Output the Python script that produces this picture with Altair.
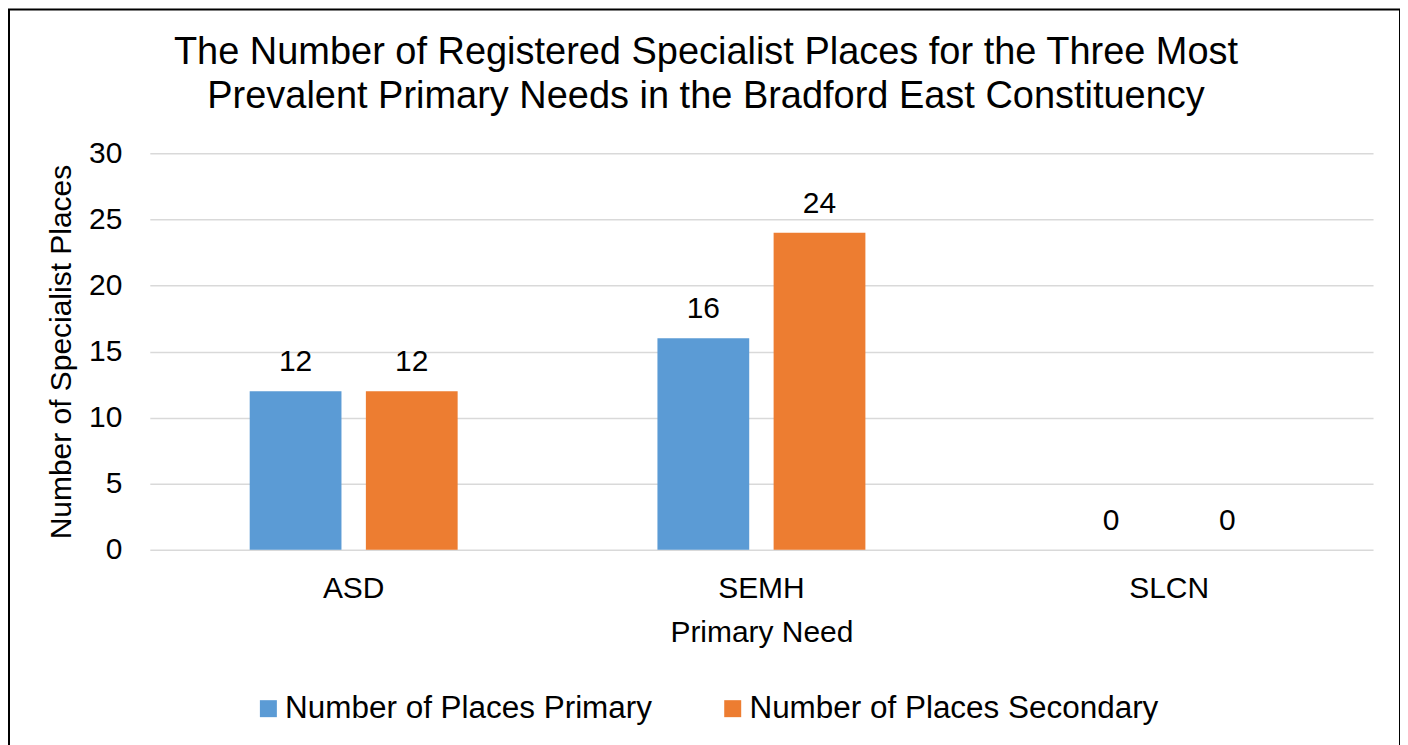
import altair as alt
import pandas as pd

title_lines = ["The Number of Registered Specialist Places for the Three Most",
               "Prevalent Primary Needs in the Bradford East Constituency"]
categories = ["ASD", "SEMH", "SLCN"]
series_names = ["Number of Places Primary", "Number of Places Secondary"]
primary_values = [12, 16, 0]
secondary_values = [12, 24, 0]
y_ticks = [0, 5, 10, 15, 20, 25, 30]
colors = ["#5B9BD5", "#ED7D31"]

rows = []
for c, p, s in zip(categories, primary_values, secondary_values):
    rows.append({"need": c, "series": series_names[0], "value": p})
    rows.append({"need": c, "series": series_names[1], "value": s})
df = pd.DataFrame(rows)

FONT = "Liberation Sans"

x_enc = alt.X(
    "need:N",
    sort=categories,
    title="Primary Need",
    scale=alt.Scale(paddingInner=0.49, paddingOuter=0.245),
    axis=alt.Axis(
        labelAngle=0, labelFontSize=30, labelPadding=24, labelColor="black",
        titleFontSize=30, titleFontWeight="normal", titleColor="black", titlePadding=14,
        domain=False, ticks=False, grid=False,
    ),
)
xoff_enc = alt.XOffset("series:N", sort=series_names,
                       scale=alt.Scale(paddingInner=0.21, paddingOuter=0))
y_enc = alt.Y(
    "value:Q",
    title="Number of Specialist Places",
    scale=alt.Scale(domain=[0, 30], nice=False),
    axis=alt.Axis(
        values=y_ticks, labelFontSize=30, labelPadding=28, labelColor="black",
        titleFontSize=30, titleFontWeight="normal", titleColor="black", titlePadding=12,
        domain=False, ticks=False, grid=True, gridColor="#D9D9D9", gridWidth=1.5,
    ),
)

base = alt.Chart(df)

bars = base.mark_bar().encode(
    x=x_enc,
    xOffset=xoff_enc,
    y=y_enc,
    color=alt.Color(
        "series:N",
        sort=series_names,
        scale=alt.Scale(domain=series_names, range=colors),
        legend=alt.Legend(
            title=None, orient="none", direction="horizontal",
            legendX=103, legendY=540,
            symbolType="square", symbolSize=289, symbolStrokeWidth=0,
            labelFontSize=31.5, labelColor="black", labelOffset=1,
            columnPadding=64, labelLimit=600,
        ),
    ),
)

labels = base.mark_text(
    fontSize=30, color="black", baseline="alphabetic", dy=-20, font=FONT
).encode(
    x=alt.X("need:N", sort=categories),
    xOffset=xoff_enc,
    y=alt.Y("value:Q"),
    text=alt.Text("value:Q"),
)

title_df = pd.DataFrame({"k": [0]})
title1 = alt.Chart(title_df).mark_text(
    fontSize=38, color="black", font=FONT, align="center", baseline="alphabetic"
).encode(x=alt.value(557), y=alt.value(-89), text=alt.value(title_lines[0]))
title2 = alt.Chart(title_df).mark_text(
    fontSize=38, color="black", font=FONT, align="center", baseline="alphabetic"
).encode(x=alt.value(557), y=alt.value(-45), text=alt.value(title_lines[1]))

border = alt.Chart(title_df).mark_rect(
    fillOpacity=0, stroke="black", strokeWidth=2
).encode(
    x=alt.value(-141), x2=alt.value(1252), y=alt.value(-144), y2=alt.value(640)
)

chart = alt.layer(bars, labels, title1, title2, border).properties(
    width=1225,
    height=397,
    autosize=alt.AutoSizeParams(type="none"),
    padding={"left": 142, "top": 145, "right": 27, "bottom": 230},
).configure(
    font=FONT,
).configure_view(
    stroke=None,
).configure_axis(
    labelFont=FONT, titleFont=FONT,
).configure_legend(
    labelFont=FONT,
)

chart.save("out.html", embed_options={"renderer": "svg", "actions": False})
